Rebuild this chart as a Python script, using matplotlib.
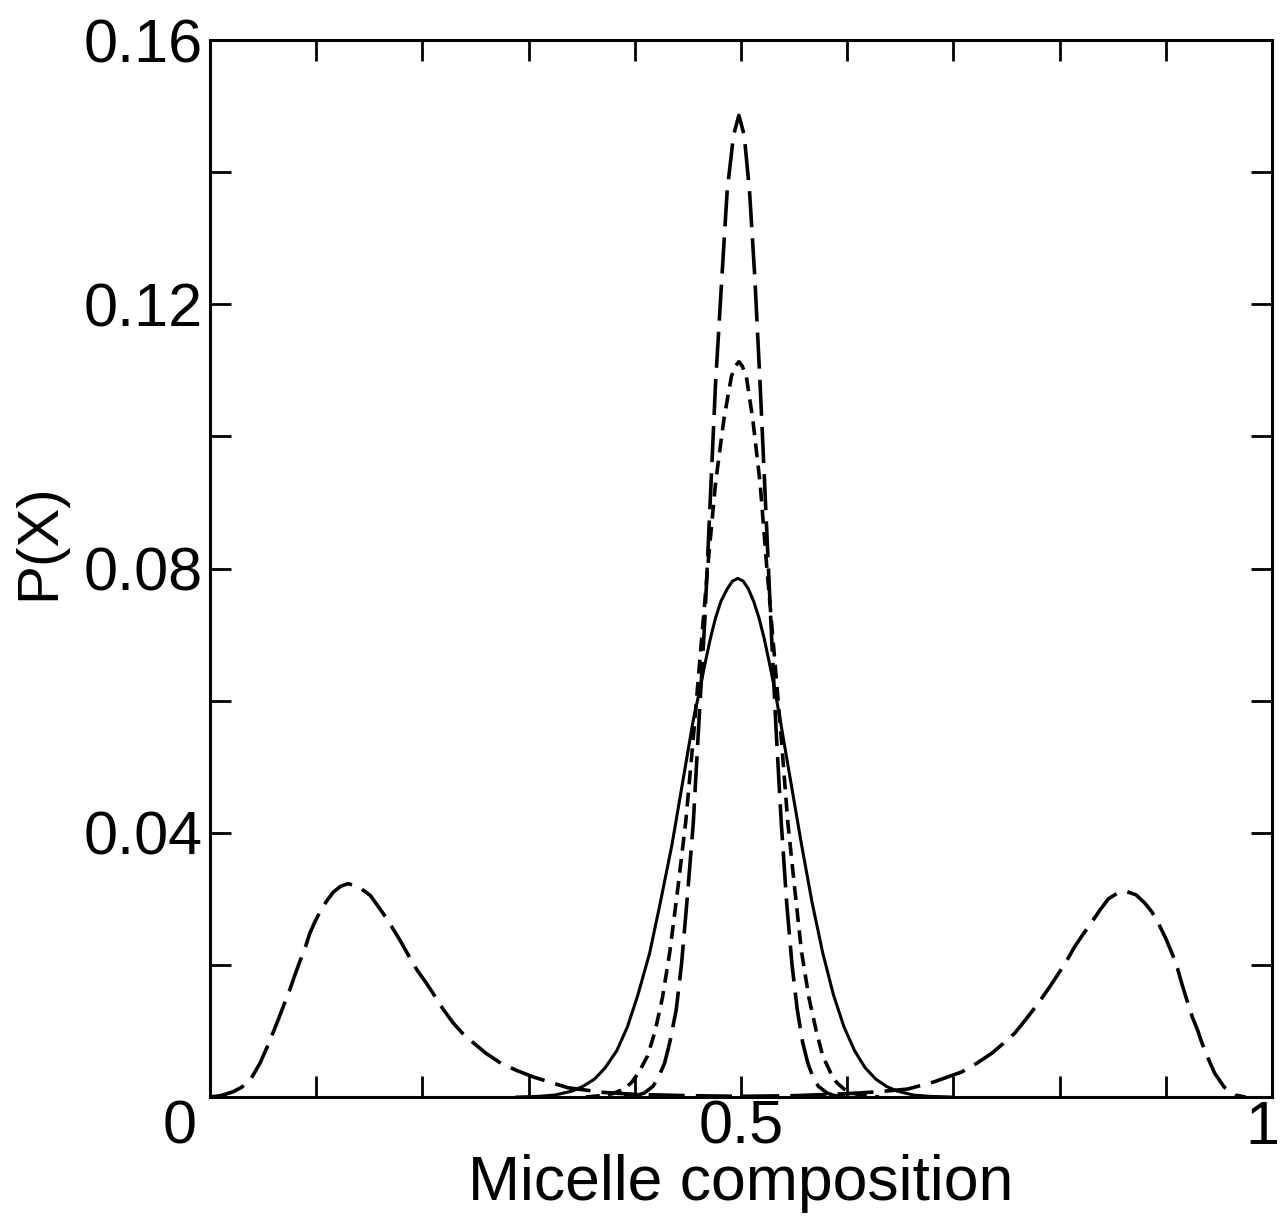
import matplotlib
matplotlib.use('Agg')
import matplotlib.pyplot as plt
import matplotlib.transforms as mtransforms
from matplotlib.ticker import MultipleLocator

plt.rcParams.update({
    'font.family': ['Liberation Sans', 'DejaVu Sans'],
    'lines.scale_dashes': False,
})

# ---- data ----
# solid curve
x_solid = [0.289, 0.310, 0.325, 0.341, 0.351, 0.362, 0.372, 0.383, 0.393, 0.403,
           0.414, 0.424, 0.435, 0.445, 0.455, 0.461, 0.466, 0.471, 0.476, 0.481,
           0.487, 0.492, 0.497, 0.502, 0.507, 0.512, 0.517, 0.522, 0.527, 0.532,
           0.537, 0.547, 0.557, 0.567, 0.577, 0.587, 0.597,
           0.607, 0.617, 0.627, 0.637, 0.647, 0.662, 0.677, 0.697]
p_solid = [0.0, 0.0001, 0.0003, 0.0009, 0.0016, 0.0027, 0.0044, 0.0070, 0.0106, 0.0155,
           0.0218, 0.0294, 0.0382, 0.0476, 0.0570, 0.0615, 0.0655, 0.0693, 0.0725, 0.0750,
           0.0769, 0.0781, 0.0785, 0.0781, 0.0769, 0.0750, 0.0725, 0.0693, 0.0655, 0.0615,
           0.0570, 0.0476, 0.0382, 0.0294, 0.0218, 0.0155, 0.0106,
           0.0070, 0.0044, 0.0027, 0.0016, 0.0009, 0.0003, 0.0001, 0.0]

# short-dashed curve
x_short = [0.354, 0.368, 0.379, 0.390, 0.397, 0.404, 0.412, 0.419, 0.426, 0.433,
           0.440, 0.448, 0.455, 0.462, 0.469, 0.476, 0.484, 0.491, 0.495, 0.498,
           0.501, 0.505, 0.511, 0.518, 0.524, 0.531, 0.538, 0.544, 0.551, 0.557, 0.564,
           0.571, 0.577, 0.584, 0.590, 0.597, 0.607, 0.617, 0.630]
p_short = [0.0, 0.0002, 0.0005, 0.0012, 0.0022, 0.0038, 0.0062, 0.0099, 0.0150, 0.0220,
           0.0309, 0.0417, 0.0542, 0.0676, 0.0808, 0.0929, 0.1027, 0.1091, 0.1107, 0.1113,
           0.1107, 0.1091, 0.1027, 0.0929, 0.0808, 0.0676, 0.0542, 0.0417, 0.0309, 0.0220, 0.0150,
           0.0099, 0.0062, 0.0038, 0.0022, 0.0012, 0.0005, 0.0002, 0.0]

# long-dashed curve (tall central peak)
x_long = [0.390, 0.401, 0.409, 0.417, 0.422, 0.428, 0.433, 0.439, 0.444, 0.449,
          0.455, 0.460, 0.466, 0.471, 0.476, 0.482, 0.487, 0.493, 0.498,
          0.503, 0.508, 0.513, 0.518, 0.523, 0.528, 0.533, 0.538, 0.543, 0.548,
          0.553, 0.558, 0.563, 0.568, 0.573, 0.581, 0.588, 0.598]
p_long = [0.0, 0.0002, 0.0006, 0.0016, 0.0029, 0.0051, 0.0083, 0.0132, 0.0201, 0.0294,
          0.0413, 0.0557, 0.0724, 0.0902, 0.1079, 0.1241, 0.1372, 0.1456, 0.1486,
          0.1456, 0.1372, 0.1241, 0.1079, 0.0902, 0.0724, 0.0557, 0.0413, 0.0294, 0.0201,
          0.0132, 0.0083, 0.0051, 0.0029, 0.0016, 0.0006, 0.0002, 0.0]

# long-dashed bimodal curve
x_bimodal = [0.0, 0.010, 0.022, 0.030, 0.038, 0.047, 0.055, 0.063, 0.069, 0.075,
             0.080, 0.085, 0.090, 0.094, 0.099, 0.104, 0.110, 0.116, 0.123, 0.130,
             0.140, 0.151, 0.163, 0.171, 0.179, 0.187, 0.195, 0.203, 0.210, 0.219,
             0.229, 0.238, 0.248, 0.260, 0.274, 0.289, 0.305, 0.337, 0.370, 0.400,
             0.450, 0.500, 0.550, 0.600, 0.630, 0.657, 0.682, 0.708, 0.722, 0.736,
             0.747, 0.758, 0.769, 0.780, 0.790, 0.799, 0.807, 0.814, 0.822, 0.830,
             0.838, 0.846, 0.855, 0.863, 0.872, 0.880, 0.887, 0.893, 0.900, 0.906,
             0.911, 0.915, 0.920, 0.925, 0.930, 0.934, 0.940, 0.946, 0.955, 0.965,
             0.975]
p_bimodal = [0.0, 0.0002, 0.0008, 0.0015, 0.0026, 0.0051, 0.0080, 0.0112, 0.0137, 0.0162,
             0.0185, 0.0207, 0.0228, 0.0248, 0.0266, 0.0282, 0.0297, 0.0310, 0.0319, 0.0323,
             0.0318, 0.0305, 0.0278, 0.0258, 0.0237, 0.0214, 0.0192, 0.0174, 0.0157, 0.0134,
             0.0112, 0.0096, 0.0082, 0.0066, 0.0051, 0.0040, 0.0030, 0.0014, 0.0007, 0.0004,
             0.0002, 0.0001, 0.0002, 0.0005, 0.0008, 0.0012, 0.0023, 0.0038, 0.0051, 0.0066,
             0.0081, 0.0097, 0.0119, 0.0142, 0.0165, 0.0187, 0.0207, 0.0227, 0.0246, 0.0264,
             0.0283, 0.0300, 0.0309, 0.0311, 0.0306, 0.0294, 0.0280, 0.0263, 0.0240, 0.0217,
             0.0195, 0.0172, 0.0146, 0.0121, 0.0101, 0.0082, 0.0058, 0.0036, 0.0015, 0.0003,
             0.0]

xtick_vals = [0, 0.5, 1]
xtick_labels = ['0', '0.5', '1']
ytick_vals = [0.04, 0.08, 0.12, 0.16]
ytick_labels = ['0.04', '0.08', '0.12', '0.16']

# ---- figure ----
fig = plt.figure(figsize=(12.83, 12.25), dpi=100)
ax = fig.add_axes([0.1637, 0.1045, 0.8277, 0.8628])

long_dash = (0, (26, 8))
short_dash = (0, (10, 6))

ax.plot(x_solid, p_solid, color='black', lw=2.2, linestyle='-')
ax.plot(x_short, p_short, color='black', lw=2.6, linestyle=short_dash)
ax.plot(x_long, p_long, color='black', lw=2.6, linestyle=long_dash)
ax.plot(x_bimodal, p_bimodal, color='black', lw=2.6, linestyle=long_dash)

ax.set_xlim(0, 1)
ax.set_ylim(0, 0.16)

ax.set_xticks(xtick_vals)
ax.set_xticklabels(xtick_labels)
ax.set_yticks(ytick_vals)
ax.set_yticklabels(ytick_labels)
ax.xaxis.set_minor_locator(MultipleLocator(0.1))
ax.yaxis.set_minor_locator(MultipleLocator(0.02))

ax.tick_params(which='both', direction='in', top=True, right=True,
               length=15, width=2.0, color='black')
ax.tick_params(axis='x', which='major', labelsize=44, pad=2)
ax.tick_params(axis='y', which='major', labelsize=44, pad=5)

# end labels sit slightly off their ticks in the original
xlabels = ax.get_xticklabels()
xlabels[0].set_transform(xlabels[0].get_transform()
                         + mtransforms.ScaledTranslation(-0.30, 0, fig.dpi_scale_trans))
xlabels[-1].set_transform(xlabels[-1].get_transform()
                          + mtransforms.ScaledTranslation(-0.10, 0, fig.dpi_scale_trans))

for spine in ax.spines.values():
    spine.set_linewidth(2.2)

ax.set_xlabel('Micelle composition', fontsize=45, labelpad=-2)
ax.set_ylabel('P(X)', fontsize=42)
ax.yaxis.set_label_coords(-0.135, 0.525)

fig.savefig('out.png', dpi=100, facecolor='white')
